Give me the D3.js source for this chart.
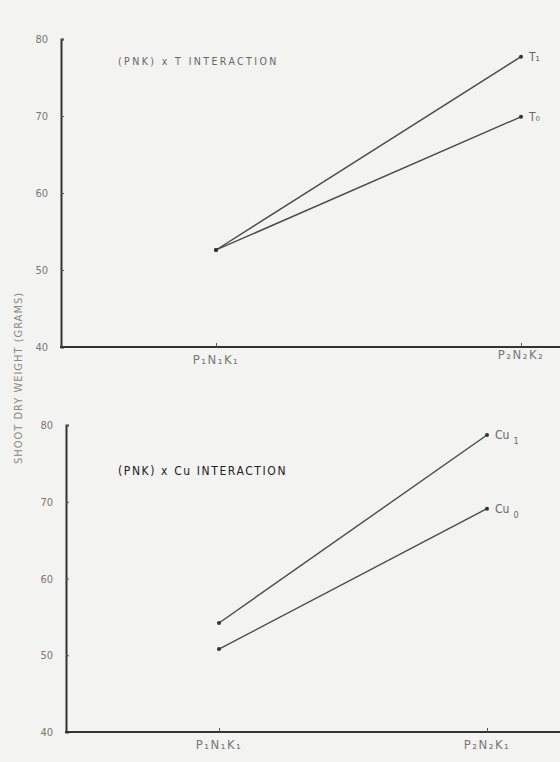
<!DOCTYPE html>
<html>
<head>
<meta charset="utf-8">
<script src="https://cdn.jsdelivr.net/npm/d3@7"></script>
<style>
  body { margin: 0; background: #f3f3f1; }
  svg { display: block; }
</style>
</head>
<body>
<div id="chart"></div>
<script>
const width = 560;
const height = 762;

// values
const yTicks = [40, 50, 60, 70, 80];
const topCategories = ["P\u2081N\u2081K\u2081", "P\u2082N\u2082K\u2082"];
const tempLevels = ["T\u2081", "T\u2080"];
const tempValues = [[52.6, 77.7], [52.6, 69.9]];
const bottomCategories = ["P\u2081N\u2081K\u2081", "P\u2082N\u2082K\u2081"];
const cuLevels = ["1", "0"];
const cuValues = [[54.2, 78.7], [50.8, 69.1]];

const svg = d3.select('#chart')
    .append('svg')
    .attr('width', width)
    .attr('height', height);

svg.append('rect')
    .attr('width', width)
    .attr('height', height)
    .attr('fill', '#f3f3f1');

const panels = [
    {
        axisX: 61, top: 39, bottom: 347, xRange: [216, 521],
        cats: topCategories, values: tempValues,
        title: "(PNK) x T INTERACTION", titleX: 118, titleY: 65,
        titleSize: 10.5, titleSpacing: 2.4, titleColor: '#666', titleFont: '"DejaVu Sans Condensed", sans-serif',
        catDy: [17, 12]
    },
    {
        axisX: 66, top: 425, bottom: 732, xRange: [219, 487],
        cats: bottomCategories, values: cuValues,
        title: "(PNK) x Cu INTERACTION", titleX: 118, titleY: 475,
        titleSize: 12, titleSpacing: 1.6, titleColor: '#222', titleFont: '"Liberation Sans Narrow", "DejaVu Sans Condensed", sans-serif',
        catDy: [17, 17]
    }
];

panels.forEach((p, pi) => {
    const g = svg.append('g');
    const y = d3.scaleLinear().domain([40, 80]).range([p.bottom, p.top]);
    const x = d3.scalePoint().domain(p.cats).range(p.xRange);

    // y axis
    const yAxis = d3.axisRight(y).tickValues(yTicks).tickSize(3).tickFormat('');
    const ya = g.append('g')
        .attr('transform', `translate(${p.axisX},0)`)
        .call(yAxis);
    ya.select('.domain').attr('stroke', '#333').attr('stroke-width', 2);
    ya.selectAll('.tick line').attr('stroke', '#555');

    g.selectAll('.ylab')
        .data(yTicks)
        .enter().append('text')
        .attr('x', p.axisX - 13)
        .attr('y', d => y(d) + 4)
        .attr('text-anchor', 'end')
        .style('font-family', '"DejaVu Sans Condensed", sans-serif')
        .style('font-size', '11px')
        .attr('fill', '#777')
        .text(d => d);

    // x axis
    g.append('line')
        .attr('x1', p.axisX - 1).attr('x2', width)
        .attr('y1', p.bottom).attr('y2', p.bottom)
        .attr('stroke', '#333').attr('stroke-width', 2);
    const xAxis = d3.axisTop(x).tickSize(4).tickFormat('');
    const xa = g.append('g')
        .attr('transform', `translate(0,${p.bottom})`)
        .call(xAxis);
    xa.select('.domain').remove();
    xa.selectAll('.tick line').attr('stroke', '#555');

    g.selectAll('.xlab')
        .data(p.cats)
        .enter().append('text')
        .attr('x', d => x(d))
        .attr('y', (d, i) => p.bottom + p.catDy[i])
        .attr('text-anchor', 'middle')
        .style('font-family', '"DejaVu Sans Condensed", sans-serif')
        .style('font-size', '13px')
        .style('letter-spacing', '1.5px')
        .attr('fill', '#777')
        .text(d => d);

    // title
    g.append('text')
        .attr('x', p.titleX)
        .attr('y', p.titleY)
        .style('font-family', p.titleFont)
        .style('font-size', p.titleSize + 'px')
        .style('letter-spacing', p.titleSpacing + 'px')
        .attr('fill', p.titleColor)
        .text(p.title);

    // lines
    const line = d3.line().x((d, i) => x(p.cats[i])).y(d => y(d));
    g.selectAll('.series')
        .data(p.values)
        .enter().append('path')
        .attr('d', d => line(d))
        .attr('fill', 'none')
        .attr('stroke', '#4a4a4a')
        .attr('stroke-width', 1.4);

    p.values.forEach(vals => {
        g.selectAll(null)
            .data(vals)
            .enter().append('circle')
            .attr('cx', (d, i) => x(p.cats[i]))
            .attr('cy', d => y(d))
            .attr('r', 2)
            .attr('fill', '#333');
    });

    // end labels
    const lastCat = p.cats[p.cats.length - 1];
    p.values.forEach((vals, si) => {
        const t = g.append('text')
            .attr('x', x(lastCat) + 8)
            .attr('y', y(vals[vals.length - 1]) + 4)
            .style('font-family', '"DejaVu Sans Condensed", sans-serif')
            .style('font-size', '12px')
            .attr('fill', '#666');
        if (pi === 0) {
            t.text(tempLevels[si]);
        } else {
            t.text('Cu');
            t.append('tspan')
                .attr('dx', 4)
                .attr('dy', 5)
                .style('font-size', '9px')
                .text(cuLevels[si]);
        }
    });
});

// shared y-axis title
svg.append('text')
    .attr('transform', 'translate(22,378) rotate(-90)')
    .attr('text-anchor', 'middle')
    .style('font-family', '"DejaVu Sans Condensed", sans-serif')
    .style('font-size', '11px')
    .style('letter-spacing', '1px')
    .attr('fill', '#888')
    .text('SHOOT DRY WEIGHT (GRAMS)');
</script>
</body>
</html>
